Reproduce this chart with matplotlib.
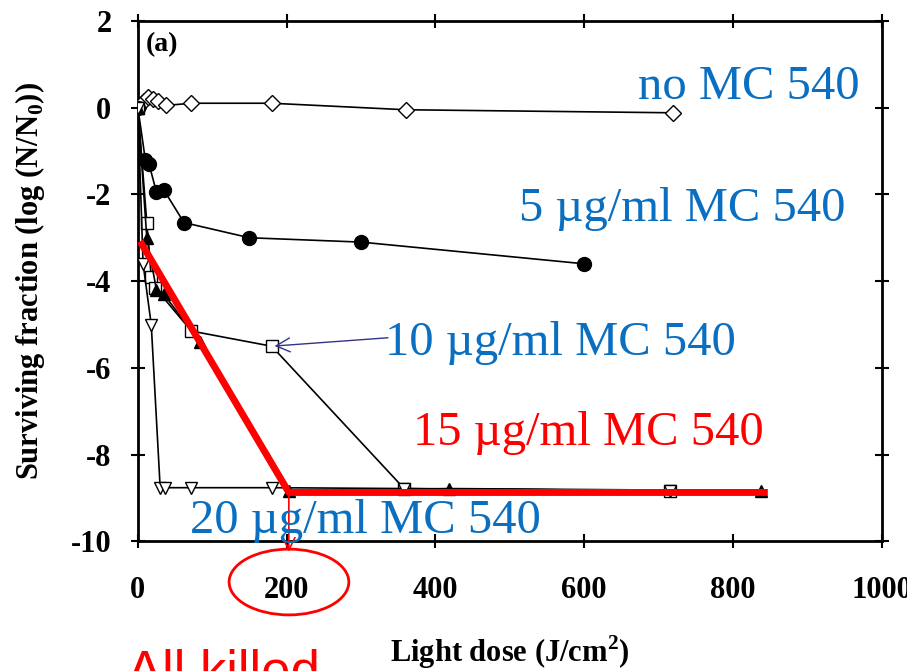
import matplotlib
matplotlib.use('Agg')
import matplotlib.pyplot as plt
from matplotlib.patches import Ellipse

plt.rcParams['axes.unicode_minus'] = False
plt.rcParams['mathtext.fontset'] = 'custom'
plt.rcParams['mathtext.rm'] = 'Liberation Serif'
plt.rcParams['mathtext.bf'] = 'Liberation Serif:bold'

# light dose (J/cm2) and log surviving fraction for each MC 540 concentration
x_none = [0, 8, 14, 20, 27, 38, 72, 180, 360, 720]
y_none = [0, 0.15, 0.25, 0.2, 0.15, 0.05, 0.1, 0.1, -0.05, -0.12]
x_5 = [0, 10, 15, 25, 35, 62, 150, 300, 600]
y_5 = [0, -1.2, -1.3, -1.95, -1.9, -2.65, -3.0, -3.1, -3.6]
x_10 = [0, 12, 18, 23, 72, 180, 358, 716]
y_10 = [0, -2.65, -3.9, -4.15, -5.15, -5.5, -8.78, -8.83]
x_15 = [0, 12, 25, 35, 83, 203, 418, 838]
y_15 = [0, -3.0, -4.2, -4.3, -5.4, -8.83, -8.78, -8.83]
x_20 = [0, 7, 18, 30, 36, 72, 180, 358, 716]
y_20 = [0, -3.6, -5.0, -8.76, -8.76, -8.76, -8.76, -8.78, -8.83]

# red fitted guide line
x_fit = [3, 203, 847]
y_fit = [-3.08, -8.87, -8.87]

labels = ['no MC 540', '5 \u00b5g/ml MC 540', '10 \u00b5g/ml MC 540',
          '15 \u00b5g/ml MC 540', '20 \u00b5g/ml MC 540']

fig = plt.figure(figsize=(9.07, 6.71), dpi=100)
ax = fig.add_axes([0.152, 0.193, 0.82, 0.776])

ax.plot(x_none, y_none, '-D', color='black', mfc='white', ms=8.5, lw=1.2, zorder=3)
ax.plot(x_5, y_5, '-o', color='black', mfc='black', ms=10, lw=1.2, zorder=3)
ax.plot(x_10, y_10, '-s', color='black', mfc='white', ms=9, lw=1.2, zorder=3)
ax.plot(x_15, y_15, '-^', color='black', mfc='black', ms=8, lw=1.2, zorder=3)
ax.plot(x_20, y_20, '-v', color='black', mfc='white', ms=9, lw=1.2, zorder=3)
ax.plot(x_fit, y_fit, '-', color='red', lw=5, zorder=5, solid_capstyle='butt')

ax.set_xlim(0, 1000)
ax.set_ylim(-10, 2)
ax.set_xticks([0, 200, 400, 600, 800, 1000])
ax.set_yticks([-10, -8, -6, -4, -2, 0, 2])
ax.tick_params(direction='inout', length=10, width=1.5, top=True, right=True,
               labelsize=22)
ax.tick_params(axis='x', pad=20)
ax.tick_params(axis='y', pad=14)
for lab in ax.get_xticklabels() + ax.get_yticklabels():
    lab.set_fontfamily('Liberation Serif')
    lab.set_fontweight('bold')
for s in ax.spines.values():
    s.set_linewidth(2)

ax.set_ylabel('Surviving fraction (log (N/N$_\\mathbf{0}$))', family='Liberation Serif',
              weight='bold', fontsize=22, labelpad=17)
ax.set_xlabel('Light dose (J/cm$^\\mathbf{2}$)', family='Liberation Serif',
              weight='bold', fontsize=22, labelpad=20)

ax.text(10, 1.3, '(a)', family='Liberation Serif', weight='bold', fontsize=20)

blue = '#0a6fc0'
tkw = dict(family='Liberation Serif', fontsize=35, va='center', zorder=6)
ax.text(673, 0.48, labels[0], color=blue, **tkw)
ax.text(512, -2.34, labels[1], color=blue, **tkw)
ax.text(332, -5.43, labels[2], color=blue, **tkw)
ax.text(370, -7.49, labels[3], color='red', **tkw)
ax.text(70, -9.52, labels[4], color=blue, **tkw)

ax.annotate('', xy=(x_10[5], y_10[5]), xytext=(340, -5.3),
            arrowprops=dict(arrowstyle='->', color='#333388', lw=1, mutation_scale=25))
ax.annotate('', xy=(203, -10.3), xytext=(203, -8.87), annotation_clip=False,
            arrowprops=dict(arrowstyle='->', color='red', lw=1.2, mutation_scale=22))

fig.patches.append(Ellipse((0.3186, 0.1326), 0.132, 0.098, transform=fig.transFigure,
                           fill=False, edgecolor='red', lw=2))
fig.text(0.140, 0.034, 'All killed', color='red', family='Liberation Sans',
         fontsize=38, va='top', ha='left')

fig.savefig('out.png', dpi=100)
